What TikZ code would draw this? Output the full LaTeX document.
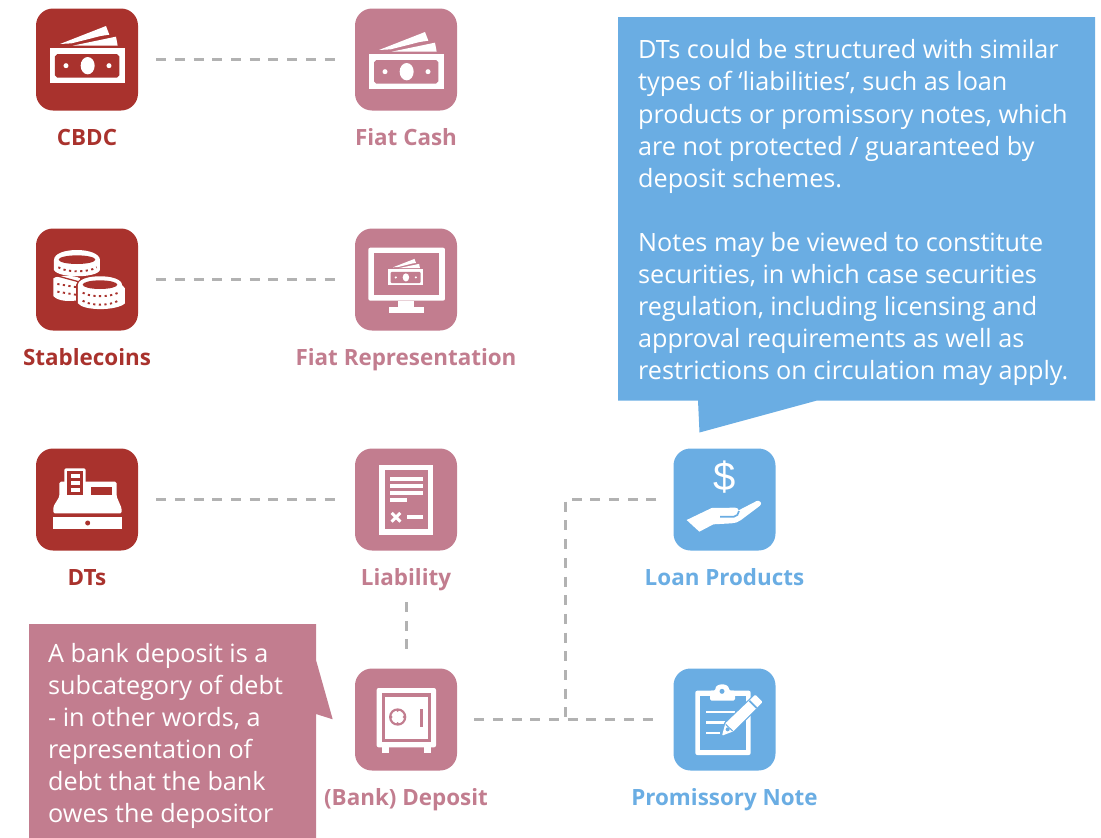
\documentclass[tikz,border=0pt]{standalone}
\usepackage{fontspec}
\setmainfont{Open Sans}
\newfontfamily\dollarfont{Liberation Sans}
\definecolor{cred}{HTML}{A9322D}
\definecolor{cpink}{HTML}{C27D8F}
\definecolor{cblue}{HTML}{6AADE3}
\definecolor{cgray}{HTML}{B2B2B2}
\newcommand{\moneyicon}[1]{%
  \fill[white] (180,132) -- (318,78) -- (328,104) -- (302,108) -- (215,130) -- cycle;
  \fill[white] (218,137) -- (348,110) -- (353,137) -- cycle;
  \fill[white] (150,145) rectangle (375,248);
  \fill[#1] (172,162) -- (351,162) -- (358,169) -- (358,226) -- (351,233) -- (172,233) -- (165,226) -- (165,169) -- cycle;
  \fill[white] (263,197) ellipse [x radius=21,y radius=26];
  \fill[white] (198,197) circle (7.5);
  \fill[white] (327,197) circle (7.5);
}
\tikzset{
  frameat/.style 2 args={shift={(#1pt,-#2pt)},x=0.33333pt,y=-0.33333pt},
  iconbox/.style={rectangle,rounded corners=17pt,minimum width=102pt,minimum height=102pt,inner sep=0pt},
  lbl/.style={font=\fontsize{22.4}{27}\selectfont\bfseries,inner sep=0pt,anchor=base},
  conn/.style={draw=cgray,line width=3pt,dash pattern=on 10pt off 8.7pt},
  notetext/.style={font=\fontsize{25.2}{32.1}\selectfont,text=white,align=left,inner sep=0pt,anchor=north west},
  coindots/.style={cred,line width=1.9pt,dash pattern=on 2.2pt off 3.4pt}
}
\begin{document}
\begin{tikzpicture}[x=1pt,y=-1pt]
\useasboundingbox (0,0) rectangle (1101,838);
% callouts
\fill[cblue] (618,17) -- (1095,17) -- (1095,400.5) -- (817,400.5) -- (699.5,432.5) -- (698,400.5) -- (618,400.5) -- cycle;
\fill[cpink] (29,624) -- (316,624) -- (316,660) -- (332.7,719.3) -- (316,714) -- (316,838) -- (29,838) -- cycle;
\node[notetext] (bluenote) at (638,39.5) {DTs could be structured with similar\\types of ‘liabilities’, such as loan\\products or promissory notes, which\\are not protected / guaranteed by\\deposit schemes.\\[32.1pt]Notes may be viewed to constitute\\securities, in which case securities\\regulation, including licensing and\\approval requirements as well as\\restrictions on circulation may apply.};
\node[notetext] (pinknote) at (48,643) {A bank deposit is a\\subcategory of debt\\- in other words, a\\representation of\\debt that the bank\\owes the depositor};
% boxes
\node[iconbox,fill=cred] (cbdc) at (87,59.5) {};
\node[iconbox,fill=cpink] (fiat) at (406,59.5) {};
\node[iconbox,fill=cred] (stable) at (87,279.5) {};
\node[iconbox,fill=cpink] (rep) at (406,279.5) {};
\node[iconbox,fill=cred] (dts) at (87,499.5) {};
\node[iconbox,fill=cpink] (liab) at (406,499.5) {};
\node[iconbox,fill=cpink] (dep) at (406,719.5) {};
\node[iconbox,fill=cblue] (loan) at (724.5,499.5) {};
\node[iconbox,fill=cblue] (prom) at (724.5,719.5) {};
% labels
\node[lbl,text=cred] (lcbdc) at (87,145.5) {CBDC};
\node[lbl,text=cpink] (lfiat) at (406,145.5) {Fiat Cash};
\node[lbl,text=cred] (lstable) at (87,365.5) {Stablecoins};
\node[lbl,text=cpink] (lrep) at (406,365.5) {Fiat Representation};
\node[lbl,text=cred] (ldts) at (87,585.5) {DTs};
\node[lbl,text=cpink] (lliab) at (406,585.5) {Liability};
\node[lbl,text=cpink] (ldep) at (406,805.5) {(Bank) Deposit};
\node[lbl,text=cblue] (lloan) at (724.5,585.5) {Loan Products};
\node[lbl,text=cblue] (lprom) at (724.5,805.5) {Promissory Note};
% connectors
\draw[conn,shorten <=18pt,shorten >=20pt] (cbdc) -- (fiat);
\draw[conn,shorten <=18pt,shorten >=20pt] (stable) -- (rep);
\draw[conn,shorten <=18pt,shorten >=20pt] (dts) -- (liab);
\draw[conn,shorten <=11pt,shorten >=19pt] (lliab) -- (dep);
\draw[conn,shorten <=17pt,shorten >=19pt] (dep) -- (prom);
\coordinate (junction) at (565,719.5);
\draw[conn,shorten <=17pt] (loan) -| (junction);
% icons
\begin{scope}[frameat={0}{0}]\moneyicon{cred}\end{scope}
\begin{scope}[frameat={319}{6}]\moneyicon{cpink}\end{scope}
% coins
\begin{scope}[frameat={0}{210}]
  \fill[white] (160,205) .. controls (175,195) and (225,195) .. (240,205) -- (240,270) .. controls (210,275) and (175,275) .. (160,258) -- cycle;
  \fill[white] (162,150) .. controls (162,110) and (298,110) .. (300,150) -- (300,180) .. controls (290,205) and (175,205) .. (162,180) -- cycle;
  \fill[cred] (231,149) ellipse [x radius=55,y radius=13];
  \draw[coindots] (175,172) .. controls (200,188) and (265,188) .. (290,172);
  \draw[cred,line width=1.3pt] (162,195) -- (235,215);
  \draw[coindots] (172,222) -- (232,232);
  \draw[coindots] (172,245) -- (232,255);
  \draw[cred,line width=2.3pt] (232,225) .. controls (240,190) and (350,185) .. (372,225) -- (375,280) .. controls (350,305) and (250,305) .. (232,280) -- cycle;
  \fill[white] (234,225) .. controls (234,190) and (366,190) .. (366,225) -- (375,235) -- (375,280) .. controls (350,303) and (250,303) .. (234,280) -- cycle;
  \fill[cred] (300,224) ellipse [x radius=52,y radius=13];
  \draw[coindots] (248,248) .. controls (270,262) and (330,262) .. (355,248);
  \draw[coindots] (248,272) .. controls (270,288) and (330,288) .. (355,272);
\end{scope}
% monitor
\begin{scope}[frameat={0}{210}]
  \fill[white,rounded corners=2pt] (1105,113) rectangle (1335,272);
  \fill[cpink] (1122,130) rectangle (1318,255);
  \fill[white] (1195,272) rectangle (1243,292);
  \fill[white] (1167,292) rectangle (1271,308);
  \begin{scope}[shift={(1165,178)},scale=0.467,shift={(-150,-145)}]\moneyicon{cpink}\end{scope}
\end{scope}
% register and document
\begin{scope}[frameat={20}{440}]
  \fill[white,rounded corners=1.5pt] (133,85) rectangle (197,170);
  \fill[white,rounded corners=1.5pt] (118,170) -- (118,125) -- (290,125) -- (290,170) -- (305,205) -- (305,220) -- (100,220) -- (100,200) -- cycle;
  \fill[cred] (142,93) rectangle (188,165);
  \fill[white] (153,102) rectangle (180,114);
  \fill[white] (153,123) rectangle (180,135);
  \fill[white] (153,144) rectangle (180,156);
  \fill[cred] (213,140) rectangle (275,165);
  \fill[white] (100,232) rectangle (305,267);
  \fill[cred] (203,249) circle (7.5);
  \fill[white] (1078,75) rectangle (1240,284);
  \fill[cpink] (1094,91) rectangle (1224,268);
  \fill[white] (1110,111) rectangle (1209,123);
  \fill[white] (1110,132) rectangle (1209,144);
  \fill[white] (1110,153) rectangle (1209,165);
  \fill[white] (1110,174) rectangle (1161,186);
  \draw[white,line width=3pt] (1115,219) -- (1141,245) (1141,219) -- (1115,245);
  \fill[white] (1161,226) rectangle (1209,237);
\end{scope}
% safe
\begin{scope}[frameat={340}{660}]
  \fill[white,rounded corners=2pt] (110,84) rectangle (288,262);
  \fill[cpink] (125,99) rectangle (273,247);
  \fill[white] (135,110) rectangle (263,236);
  \fill[white] (126,262) rectangle (147,279);
  \fill[white] (251,262) rectangle (273,279);
  \fill[cpink] (173,171) circle (26);
  \fill[white] (173,171) circle (19);
  \fill[cpink] (173,152) circle (4);
  \fill[cpink] (173,190) circle (4);
  \fill[cpink] (154,171) circle (4);
  \fill[cpink] (192,171) circle (4);
  \fill[cpink] (240,146) rectangle (249,202);
\end{scope}
% hand and dollar
\begin{scope}[frameat={660}{440}]
  \fill[white] (80,240) -- (155,204) -- (225,203) .. controls (232,203) and (236,207) .. (236,211) -- (290,183) .. controls (300,180) and (308,190) .. (300,197) -- (243,240) .. controls (235,247) and (225,249) .. (215,250) -- (160,253) -- (118,275) -- cycle;
  \draw[cblue,line width=1.7pt] (180,230) -- (222,230) .. controls (230,230) and (236,222) .. (237,213);
  \node[text=white,font=\dollarfont\fontsize{40}{40}\selectfont,inner sep=0pt] (dollar) at (195,112) {\$};
\end{scope}
% clipboard
\begin{scope}[frameat={660}{660}]
  \fill[white,rounded corners=2pt] (106,92) rectangle (272,285);
  \fill[cblue] (121,107) rectangle (257,270);
  \fill[white,rounded corners=1.5pt] (150,122) -- (150,92) -- (166,92) .. controls (166,68) and (207,68) .. (207,92) -- (225,92) -- (225,122) -- cycle;
  \fill[cblue] (186,94) circle (7.5);
  \fill[white] (137,152) rectangle (225,160);
  \fill[white] (137,183) rectangle (195,191);
  \fill[white] (137,215) rectangle (180,223);
  \filldraw[draw=cblue,fill=white,line width=2.4pt,line join=round] (186,227) -- (196,190) -- (286,104) -- (308,126) -- (220,214) -- cycle;
  \fill[white,rounded corners=1pt] (186,227) -- (196,190) -- (286,104) -- (308,126) -- (220,214) -- cycle;
  \draw[cblue,line width=1.7pt] (268,122) -- (290,144);
  \fill[cblue] (203,208) circle (6);
  \draw[cblue,line width=1pt] (197,193) -- (218,213);
\end{scope}
\end{tikzpicture}
\end{document}
